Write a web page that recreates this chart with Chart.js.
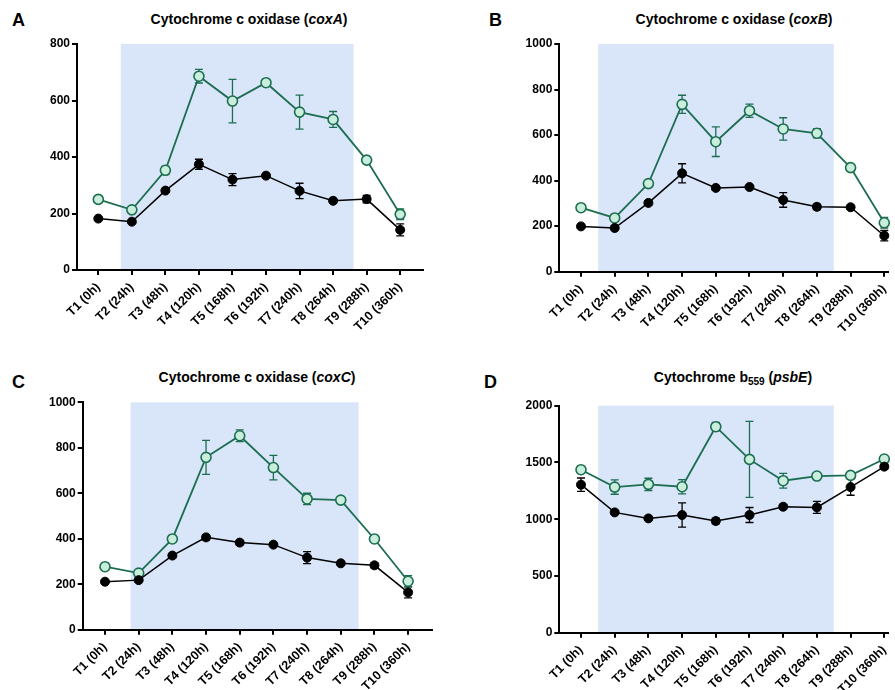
<!DOCTYPE html>
<html>
<head>
<meta charset="utf-8">
<script src="https://cdn.jsdelivr.net/npm/chart.js@4.4.1/dist/chart.umd.min.js"></script>
<style>
  html, body { margin: 0; padding: 0; background: #fff; overflow: hidden; }
  body { width: 895px; height: 690px; position: relative; font-family: "Liberation Sans", Arial, sans-serif; color: #000; }
  canvas { position: absolute; }
  .letter { position: absolute; font-weight: bold; font-size: 18px; line-height: 1; }
  .title { position: absolute; width: 300px; text-align: center; font-weight: bold; font-size: 14px; line-height: 1; white-space: nowrap; }
  .title sub { font-size: 10px; vertical-align: -3px; line-height: 0; }
</style>
</head>
<body>
<div class="letter" style="left:12px;top:11px">A</div>
<div class="letter" style="left:489px;top:11px">B</div>
<div class="letter" style="left:12px;top:373px">C</div>
<div class="letter" style="left:484px;top:373px">D</div>

<div class="title" style="left:99px;top:12px">Cytochrome c oxidase (<i>coxA</i>)</div>
<div class="title" style="left:584px;top:12px">Cytochrome c oxidase (<i>coxB</i>)</div>
<div class="title" style="left:107px;top:370px">Cytochrome c oxidase (<i>coxC</i>)</div>
<div class="title" style="left:583px;top:370px">Cytochrome b<sub>559</sub> (<i>psbE</i>)</div>

<canvas id="panelA" width="447" height="340" style="left:0;top:0"></canvas>
<canvas id="panelB" width="448" height="340" style="left:447px;top:0"></canvas>
<canvas id="panelC" width="447" height="350" style="left:0;top:340px"></canvas>
<canvas id="panelD" width="448" height="360" style="left:447px;top:340px"></canvas>

<script>
const timepoints = ['T1 (0h)', 'T2 (24h)', 'T3 (48h)', 'T4 (120h)', 'T5 (168h)',
                    'T6 (192h)', 'T7 (240h)', 'T8 (264h)', 'T9 (288h)', 'T10 (360h)'];

// coxA
const coxA_open = [250, 213, 353, 686, 598, 663, 559, 533, 389, 197];
const coxA_openErr = [6, 6, 15, 24, 77, 6, 60, 28, 6, 19];
const coxA_filled = [182, 171, 281, 374, 320, 334, 280, 245, 251, 142];
const coxA_filledErr = [5, 5, 6, 18, 21, 5, 27, 8, 13, 21];

// coxB
const coxB_open = [281, 236, 387, 735, 571, 707, 627, 608, 457, 215];
const coxB_openErr = [5, 8, 8, 40, 65, 29, 49, 20, 5, 23];
const coxB_filled = [199, 192, 302, 432, 368, 372, 315, 285, 283, 158];
const coxB_filledErr = [5, 5, 10, 42, 10, 5, 32, 12, 8, 23];

// coxC
const coxC_open = [277, 249, 399, 758, 853, 713, 575, 570, 399, 213];
const coxC_openErr = [5, 8, 8, 75, 26, 54, 25, 5, 10, 25];
const coxC_filled = [211, 218, 326, 406, 383, 374, 317, 292, 283, 164];
const coxC_filledErr = [5, 8, 10, 12, 10, 5, 26, 6, 12, 24];

// psbE
const psbE_open = [1436, 1283, 1307, 1286, 1815, 1527, 1339, 1380, 1386, 1530];
const psbE_openErr = [15, 63, 54, 62, 37, 335, 65, 10, 15, 15];
const psbE_filled = [1304, 1060, 1007, 1037, 984, 1037, 1110, 1104, 1283, 1463];
const psbE_filledErr = [59, 10, 10, 106, 25, 66, 20, 53, 72, 20];

const GREEN = '#1d6e51';
const MINT = '#c9eedc';
const FONT = '"Liberation Sans", Arial, sans-serif';

// shaded time window behind the data
const shadePlugin = {
    id: 'shade',
    beforeDraw(chart, args, opts) {
        const { ctx, chartArea, scales: { x } } = chart;
        const x0 = x.getPixelForValue(opts.from);
        const x1 = x.getPixelForValue(opts.to);
        ctx.save();
        ctx.fillStyle = '#d9e5f9';
        ctx.fillRect(x0, chartArea.top, x1 - x0, chartArea.bottom - chartArea.top);
        ctx.restore();
    }
};

const errorBarPlugin = {
    id: 'errorBars',
    beforeDatasetsDraw(chart) {
        const { ctx, scales: { x, y } } = chart;
        chart.data.datasets.forEach((ds) => {
            if (!ds.errors) return;
            ctx.save();
            ctx.strokeStyle = ds.borderColor;
            ctx.lineWidth = 1.3;
            ds.data.forEach((pt, i) => {
                const px = x.getPixelForValue(pt.x);
                const top = y.getPixelForValue(pt.y + ds.errors[i]);
                const bot = y.getPixelForValue(pt.y - ds.errors[i]);
                ctx.beginPath();
                ctx.moveTo(px, top); ctx.lineTo(px, bot);
                ctx.moveTo(px - 4, top); ctx.lineTo(px + 4, top);
                ctx.moveTo(px - 4, bot); ctx.lineTo(px + 4, bot);
                ctx.stroke();
            });
            ctx.restore();
        });
    }
};

const toPoints = (vals) => vals.map((v, i) => ({ x: i, y: v }));

function makePanel(id, p) {
    new Chart(document.getElementById(id), {
        type: 'line',
        data: {
            datasets: [{
                data: toPoints(p.filled),
                errors: p.filledErr,
                borderColor: '#000',
                borderWidth: 1.5,
                pointRadius: 4.5,
                pointBackgroundColor: '#000',
                pointBorderColor: '#000',
                pointBorderWidth: 1,
                clip: false
            }, {
                data: toPoints(p.open),
                errors: p.openErr,
                borderColor: GREEN,
                borderWidth: 1.8,
                pointRadius: 5,
                pointBackgroundColor: MINT,
                pointBorderColor: GREEN,
                pointBorderWidth: 1.6,
                clip: false
            }]
        },
        options: {
            responsive: false,
            animation: false,
            layout: { padding: p.pad },
            plugins: {
                legend: { display: false },
                tooltip: { enabled: false },
                shade: { from: p.shade[0], to: p.shade[1] }
            },
            scales: {
                x: {
                    type: 'linear',
                    min: p.xMin,
                    max: p.xMax,
                    afterBuildTicks: (s) => { s.ticks = timepoints.map((_, i) => ({ value: i })); },
                    afterFit: (s) => { s.height = 60; s.paddingLeft = 0; s.paddingRight = 0; },
                    ticks: {
                        autoSkip: false,
                        minRotation: 45,
                        maxRotation: 45,
                        padding: 5,
                        color: '#000',
                        font: { family: FONT, size: 12.5, weight: 'bold' },
                        callback: (v) => timepoints[v]
                    },
                    grid: { drawOnChartArea: false, drawTicks: true, tickLength: 5, color: '#000', lineWidth: 2 },
                    border: { display: true, color: '#000', width: 2 }
                },
                y: {
                    min: 0,
                    max: p.yMax,
                    afterFit: (s) => { s.width = 40; },
                    ticks: {
                        stepSize: p.yStep,
                        padding: 2,
                        color: '#000',
                        font: { family: FONT, size: 12, weight: 'bold' },
                        callback: (v) => String(v)
                    },
                    grid: { drawOnChartArea: false, drawTicks: true, tickLength: 5, color: '#000', lineWidth: 2 },
                    border: { display: true, color: '#000', width: 2 }
                }
            }
        },
        plugins: [shadePlugin, errorBarPlugin]
    });
}

makePanel('panelA', {
    open: coxA_open, openErr: coxA_openErr, filled: coxA_filled, filledErr: coxA_filledErr,
    yMax: 800, yStep: 200, xMin: -0.635, xMax: 9.68, shade: [0.67, 7.61],
    pad: { left: 37, right: 24, top: 44, bottom: 10 }
});
makePanel('panelB', {
    open: coxB_open, openErr: coxB_openErr, filled: coxB_filled, filledErr: coxB_filledErr,
    yMax: 1000, yStep: 200, xMin: -0.644, xMax: 9.11, shade: [0.51, 7.5],
    pad: { left: 72.3, right: 7, top: 44, bottom: 8.3 }
});
makePanel('panelC', {
    open: coxC_open, openErr: coxC_openErr, filled: coxC_filled, filledErr: coxC_filledErr,
    yMax: 1000, yStep: 200, xMin: -0.662, xMax: 9.7, shade: [0.76, 7.53],
    pad: { left: 42.7, right: 15.3, top: 62.3, bottom: 0.3 }
});
makePanel('panelD', {
    open: psbE_open, openErr: psbE_openErr, filled: psbE_filled, filledErr: psbE_filledErr,
    yMax: 2000, yStep: 500, xMin: -0.644, xMax: 9.11, shade: [0.51, 7.5],
    pad: { left: 72.3, right: 7, top: 65.7, bottom: 7.3 }
});
</script>
</body>
</html>
